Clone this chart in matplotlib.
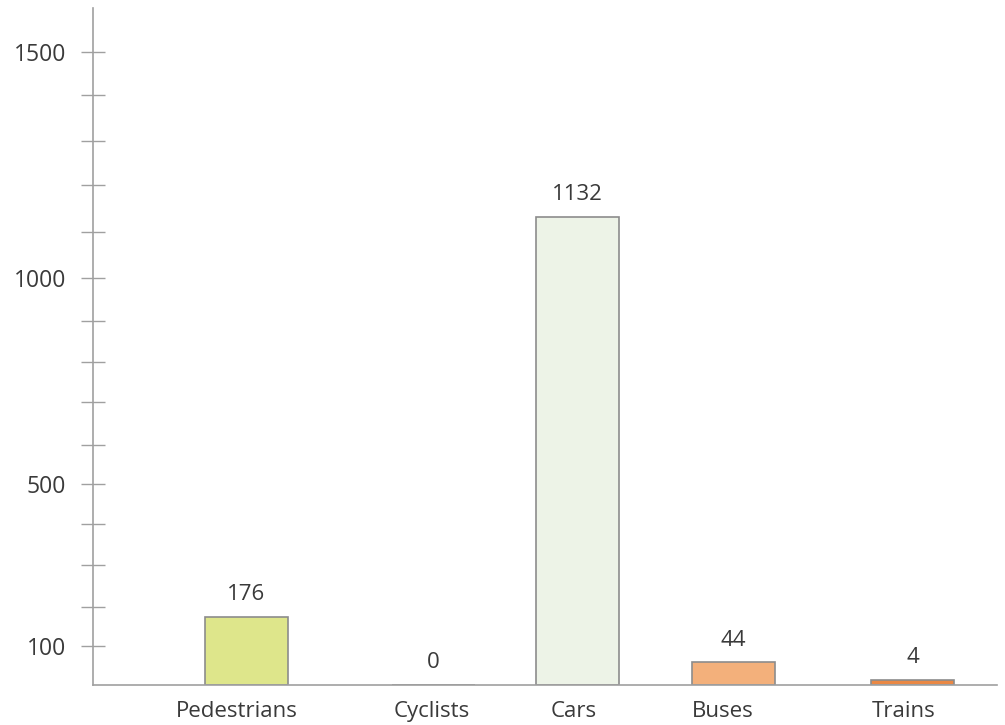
import numpy as np
import matplotlib.pyplot as plt

plt.rcParams['font.family'] = ['Open Sans', 'DejaVu Sans']

# data
modes = ['Pedestrians', 'Cyclists', 'Cars', 'Buses', 'Trains']
counts = [176, 0, 1132, 44, 4]
colors = ['#dee68b', '#c9dc9a', '#edf3e7', '#f3b07b', '#ea8844']
y_labelled = [100, 500, 1000, 1500]

# layout (x in pixel-like units across the plot area)
bar_x = [246.3, 433, 577.5, 733.3, 912.7]
label_x = [236.5, 431.5, 573.3, 723, 904]
bar_w = 83

# uneven value axis: value -> height mapping
scale_v = [0, 5, 25, 50, 100, 200, 300, 400, 500, 600, 700, 800, 900,
           1000, 1100, 1200, 1300, 1400, 1500, 1600]
scale_h = [0, 7, 16, 25, 39.6, 78, 120.3, 161, 201.6, 240, 283, 323.3, 364.3,
           407, 453, 500, 544.3, 590.3, 633.6, 677.3]


def fwd(v):
    return np.interp(v, scale_v, scale_h)


def inv(h):
    return np.interp(h, scale_h, scale_v)


fig = plt.figure(figsize=(10.05, 7.25), dpi=100)
ax = fig.add_axes([93.3 / 1005, 39.7 / 725, (997 - 93.3) / 1005, 677.3 / 725])
ax.set_yscale('function', functions=(fwd, inv))
ax.set_ylim(0, 1600)
ax.set_xlim(93.3, 997)

ax.bar(bar_x, counts, width=bar_w, color=colors, edgecolor='#8c8c8c', linewidth=1.2)
for x, v in zip(bar_x, counts):
    ax.annotate(str(v), (x, v), xytext=(0, 8.5), textcoords='offset points',
                ha='center', va='bottom', fontsize=16, color='#3a3a3a')

ax.set_xticks(label_x)
ax.set_xticklabels(modes, fontsize=16, color='#3a3a3a')
ax.tick_params(axis='x', length=0, pad=11)

ax.set_yticks(range(100, 1600, 100))
ax.set_yticklabels([str(t) if t in y_labelled else '' for t in range(100, 1600, 100)],
                   fontsize=16.5, color='#3a3a3a')
ax.tick_params(axis='y', direction='inout', length=17.3, width=1, color='#a0a0a0', pad=11)
ax.yaxis.set_minor_locator(plt.NullLocator())

for side in ['top', 'right']:
    ax.spines[side].set_visible(False)
for side in ['left', 'bottom']:
    ax.spines[side].set_color('#a0a0a0')
    ax.spines[side].set_linewidth(1.2)

fig.savefig('out.png', dpi=100)
